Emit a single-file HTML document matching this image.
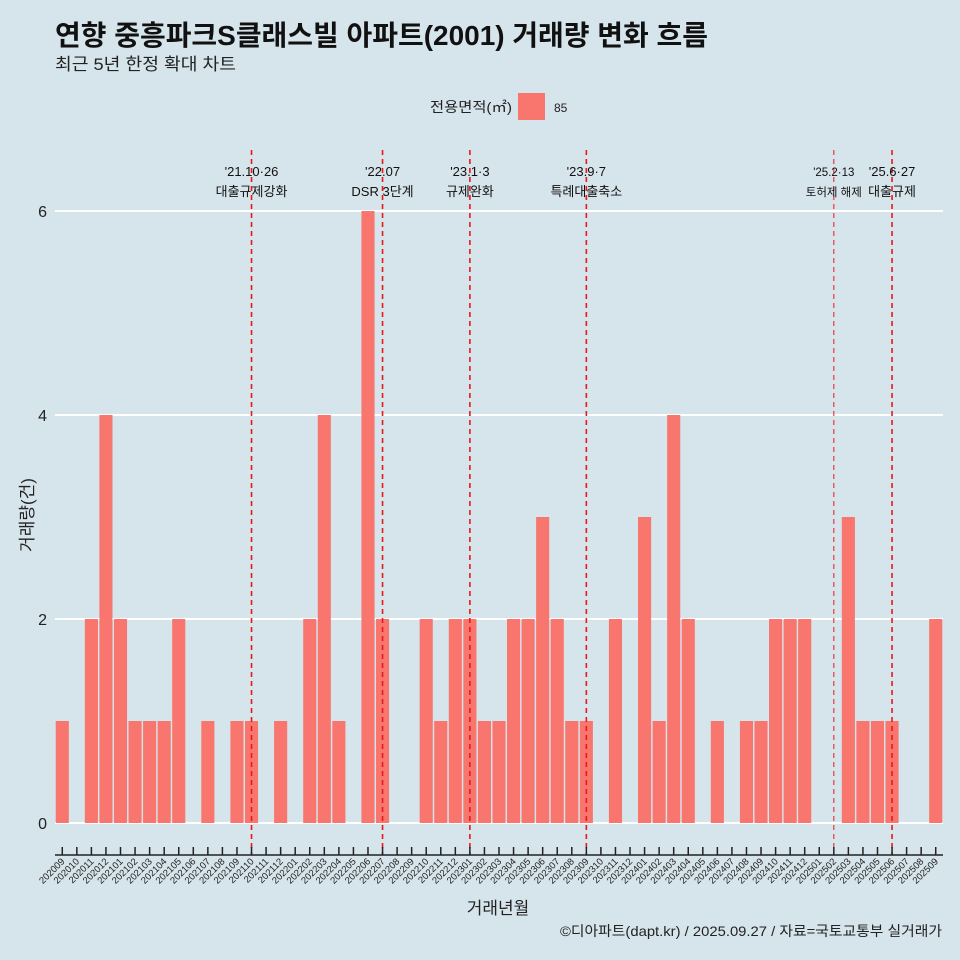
<!DOCTYPE html>
<html><head><meta charset="utf-8"><style>
body{margin:0;background:#d6e4eb;}
svg{display:block;font-family:"Liberation Sans","Noto Sans CJK KR",sans-serif;}
</style></head><body>
<svg id="c" width="960" height="960">
<rect width="960" height="960" fill="#d6e4eb"/>
<text x="55" y="45" font-size="28" font-weight="bold" fill="#111" textLength="653" lengthAdjust="spacingAndGlyphs">연향 중흥파크S클래스빌 아파트(2001) 거래량 변화 흐름</text>
<text x="55" y="70" font-size="17" fill="#222" textLength="181" lengthAdjust="spacingAndGlyphs">최근 5년 한정 확대 차트</text>
<text x="430" y="112" font-size="14" fill="#222" textLength="82" lengthAdjust="spacingAndGlyphs">전용면적(㎡)</text>
<rect x="518" y="93" width="27" height="27" fill="#f8766d"/>
<text x="554" y="112" font-size="12" fill="#222">85</text>
<g id="grid"></g><g id="bars"></g><g id="vlines"></g><g id="xaxis"></g><g id="yaxis"></g>
<text transform="translate(33,515) rotate(-90)" text-anchor="middle" font-size="17" fill="#222">거래량(건)</text>
<text x="498" y="914" text-anchor="middle" font-size="17" fill="#222">거래년월</text>
<text x="942" y="936" text-anchor="end" font-size="14" fill="#222" textLength="382" lengthAdjust="spacingAndGlyphs">©디아파트(dapt.kr) / 2025.09.27 / 자료=국토교통부 실거래가</text>
</svg>
<script>
const categories=[];
for(let y=2020,m=9;!(y===2025&&m===10);){categories.push(y+String(m).padStart(2,'0'));m++;if(m>12){m=1;y++;}}
const values=[1,0,2,4,2,1,1,1,2,0,1,0,1,1,0,1,0,2,4,1,0,6,2,0,0,2,1,2,2,1,1,2,2,3,2,1,1,0,2,0,3,1,4,2,0,1,0,1,1,2,2,2,0,0,3,1,1,1,0,0,2];
const yTicks=[0,2,4,6];
const events=["202110","202207","202301","202309","202502","202506"];
const eventLine1=["'21.10·26","'22.07","'23.1·3","'23.9·7","'25.2·13","'25.6·27"];
const eventLine2=["대출규제강화","DSR 3단계","규제완화","특례대출축소","토허제 해제","대출규제"];
const ns="http://www.w3.org/2000/svg";
const X0=55,X1=943,Y0=823,PPU=102;
const step=(X1-X0)/categories.length;
const xc=c=>X0+step*(categories.indexOf(c)+0.5);
const ys=v=>Y0-v*PPU;
function mk(tag,a,p){const e=document.createElementNS(ns,tag);for(const k in a)e.setAttribute(k,a[k]);document.getElementById(p).appendChild(e);return e;}
yTicks.forEach(t=>{
 const l=mk('line',{x1:X0,x2:X1,y1:ys(t),y2:ys(t),stroke:'#fff','stroke-width':2},'grid');
 
 
 const tx=mk('text',{x:47,y:ys(t)+6,'text-anchor':'end','font-size':16,fill:'#222'},'yaxis');
 tx.textContent=t;
 
 
});
categories.forEach((c,i)=>{
 const v=values[i];
 if(v>0){const r=mk('rect',{x:xc(c)-step*0.45,y:ys(v),width:step*0.9,height:v*PPU,fill:'#f8766d'},'bars');
 
 }
 const tk=mk('line',{x1:xc(c),x2:xc(c),y1:847,y2:855,stroke:'#222','stroke-width':1.5},'xaxis');
 
 
 const tl=mk('text',{x:0,y:0,'text-anchor':'end','font-size':9.5,fill:'#222',transform:`translate(${xc(c)+3},${862}) rotate(-45)`},'xaxis');
 tl.textContent=c;
 
 
});
const ax=mk('line',{x1:X0,x2:X1,y1:855,y2:855,stroke:'#222','stroke-width':1.5},'xaxis');


events.forEach((e,i)=>{
 const x=xc(e);
 const thin=e==="202502";
 const l=mk('line',{x1:x,x2:x,y1:150,y2:855,stroke:'#e8191a','stroke-width':thin?1:1.6,'stroke-dasharray':'5,4'},'vlines');
 
 
 const fs=thin?11.5:13;
 const t1=mk('text',{x:x,y:176,'text-anchor':'middle','font-size':fs,fill:'#111'},'vlines');
 t1.textContent=eventLine1[i];
 
 
 const t2=mk('text',{x:x,y:196,'text-anchor':'middle','font-size':fs,fill:'#111'},'vlines');
 t2.textContent=eventLine2[i];
 
 
});
</script>
</body></html>
